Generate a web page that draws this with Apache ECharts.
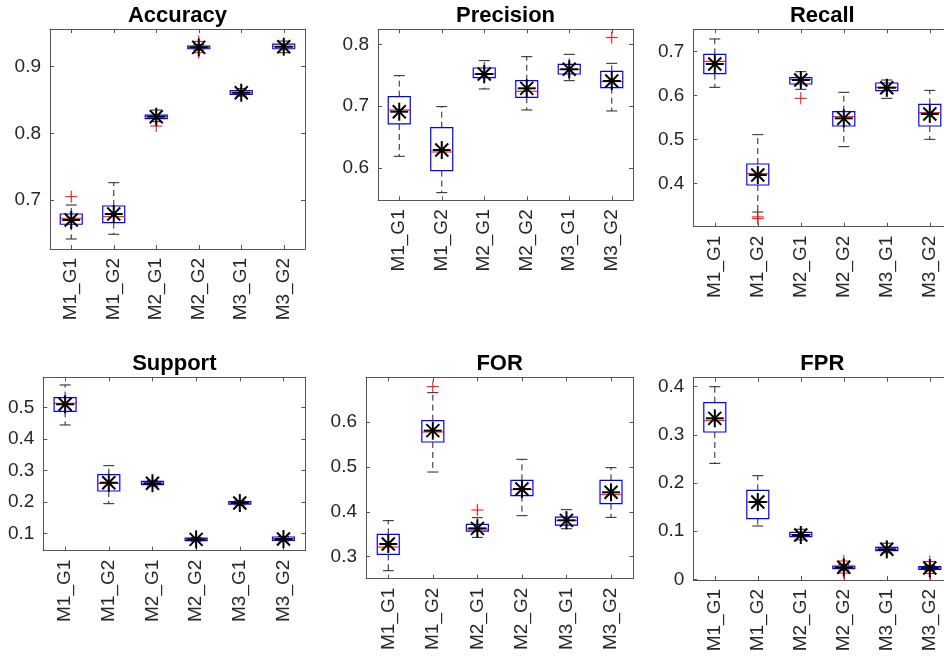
<!DOCTYPE html>
<html>
<head>
<meta charset="utf-8">
<script src="https://cdn.jsdelivr.net/npm/echarts@6/dist/echarts.min.js"></script>
<style>
  html, body { margin: 0; padding: 0; background: #fff; }
  #main { width: 944px; height: 656px; }
</style>
</head>
<body>
<div id="main"></div>
<script>
var categories = ['M1_G1', 'M1_G2', 'M2_G1', 'M2_G2', 'M3_G1', 'M3_G2'];

// box rows: [lower whisker, q1, median, q3, upper whisker]
var accuracyBox = [
  [0.6415, 0.6636, 0.6726, 0.6790, 0.6925],
  [0.6486, 0.6660, 0.6750, 0.6910, 0.7260],
  [0.8175, 0.8220, 0.8250, 0.8275, 0.8350],
  [0.9250, 0.9270, 0.9290, 0.9310, 0.9330],
  [0.8560, 0.8585, 0.8610, 0.8640, 0.8670],
  [0.9210, 0.9270, 0.9300, 0.9340, 0.9385]
];
var accuracyMean = [0.670, 0.679, 0.825, 0.929, 0.861, 0.930];
var accuracyOutliers = [[0, 0.705], [2, 0.811], [3, 0.938], [3, 0.921]];
var accuracyTicks = [0.7, 0.8, 0.9];

var precisionBox = [
  [0.6189, 0.6712, 0.6938, 0.7154, 0.7493],
  [0.5601, 0.5957, 0.6259, 0.6652, 0.6992],
  [0.7278, 0.7460, 0.7520, 0.7617, 0.7736],
  [0.6938, 0.7143, 0.7240, 0.7412, 0.7800],
  [0.7412, 0.7520, 0.7596, 0.7677, 0.7838],
  [0.6922, 0.7299, 0.7396, 0.7563, 0.7693]
];
var precisionMean = [0.691, 0.629, 0.752, 0.7288, 0.7596, 0.7407];
var precisionOutliers = [[5, 0.8108]];
var precisionTicks = [0.6, 0.7, 0.8];

var recallBox = [
  [0.6190, 0.6500, 0.6780, 0.6939, 0.7288],
  [0.3356, 0.3970, 0.4227, 0.4447, 0.5114],
  [0.6144, 0.6265, 0.6371, 0.6409, 0.6545],
  [0.4841, 0.5311, 0.5523, 0.5636, 0.6076],
  [0.5940, 0.6114, 0.6190, 0.6288, 0.6356],
  [0.5008, 0.5311, 0.5614, 0.5803, 0.6121]
];
var recallMean = [0.672, 0.4197, 0.6356, 0.5485, 0.618, 0.5583];
var recallOutliers = [[1, 0.3245], [1, 0.3205], [2, 0.594]];
var recallTicks = [0.4, 0.5, 0.6, 0.7];

var supportBox = [
  [0.4439, 0.4873, 0.5127, 0.5307, 0.5709],
  [0.1942, 0.2344, 0.2587, 0.2862, 0.3148],
  [0.2500, 0.2545, 0.2587, 0.2650, 0.2680],
  [0.0750, 0.0767, 0.0810, 0.0852, 0.0870],
  [0.1900, 0.1931, 0.1963, 0.2005, 0.2030],
  [0.0760, 0.0778, 0.0830, 0.0884, 0.0900]
];
var supportMean = [0.5095, 0.2608, 0.259, 0.081, 0.1963, 0.082];
var supportOutliers = [];
var supportTicks = [0.1, 0.2, 0.3, 0.4, 0.5];

var forBox = [
  [0.2689, 0.3053, 0.3216, 0.3498, 0.3803],
  [0.4886, 0.5555, 0.5777, 0.6030, 0.6653],
  [0.3431, 0.3572, 0.3617, 0.3720, 0.3870],
  [0.3914, 0.4359, 0.4493, 0.4701, 0.5169],
  [0.3624, 0.3706, 0.3810, 0.3884, 0.4048],
  [0.3877, 0.4181, 0.4382, 0.4701, 0.4983]
];
var forMean = [0.3283, 0.5807, 0.3632, 0.4508, 0.381, 0.4434];
var forOutliers = [[1, 0.6787], [2, 0.404]];
var forTicks = [0.3, 0.4, 0.5, 0.6];

var fprBox = [
  [0.2408, 0.3059, 0.3294, 0.3668, 0.4000],
  [0.1107, 0.1260, 0.1606, 0.1848, 0.2152],
  [0.0820, 0.0886, 0.0927, 0.0976, 0.1040],
  [0.0190, 0.0221, 0.0250, 0.0277, 0.0310],
  [0.0550, 0.0595, 0.0623, 0.0664, 0.0750],
  [0.0180, 0.0208, 0.0236, 0.0263, 0.0290]
];
var fprMean = [0.3343, 0.1606, 0.092, 0.025, 0.0623, 0.0236];
var fprOutliers = [[3, 0.038], [3, 0.013], [5, 0.037], [5, 0.012]];
var fprTicks = [0, 0.1, 0.2, 0.3, 0.4];

var panels = [
  {title: 'Accuracy', box: accuracyBox, mean: accuracyMean, out: accuracyOutliers, ticks: accuracyTicks,
   left: 50, top: 29, width: 255, height: 220, min: 0.6265, max: 0.9566},
  {title: 'Precision', box: precisionBox, mean: precisionMean, out: precisionOutliers, ticks: precisionTicks,
   left: 378, top: 29.3, width: 255, height: 171, min: 0.5477, max: 0.8243},
  {title: 'Recall', box: recallBox, mean: recallMean, out: recallOutliers, ticks: recallTicks,
   left: 693.3, top: 29.3, width: 258, height: 197.4, min: 0.3023, max: 0.7508},
  {title: 'Support', box: supportBox, mean: supportMean, out: supportOutliers, ticks: supportTicks,
   left: 43.3, top: 377.3, width: 262, height: 173.4, min: 0.045, max: 0.5952},
  {title: 'FOR', box: forBox, mean: forMean, out: forOutliers, ticks: forTicks,
   left: 366, top: 377.3, width: 267.3, height: 201.4, min: 0.2511, max: 0.6995},
  {title: 'FPR', box: fprBox, mean: fprMean, out: fprOutliers, ticks: fprTicks,
   left: 693.3, top: 377.7, width: 258, height: 202.3, min: -0.0014, max: 0.4187}
];

var FONT = 'Liberation Sans, Arial, Helvetica, sans-serif';
var TEXT_COLOR = '#262626';
var AXIS_COLOR = '#555555';

// matlab style box: dashed whiskers, blue box, red median, black asterisk for the mean
function renderBox(params, api) {
  var k = api.value(0);
  function pt(d) { return api.coord([k, api.value(d)]); }
  var lo = pt(1), q1 = pt(2), md = pt(3), q3 = pt(4), hi = pt(5), mn = pt(6);
  var x = lo[0], hw = 11, cw = 5.5, r = 9, d = 6.5;
  var dash = {stroke: '#222', lineWidth: 1, lineDash: [6, 4], fill: null};
  var solid = {stroke: '#222', lineWidth: 1};
  var star = {stroke: '#000', lineWidth: 2};
  return {
    type: 'group',
    children: [
      {type: 'line', shape: {x1: x, y1: q3[1], x2: x, y2: hi[1]}, style: dash},
      {type: 'line', shape: {x1: x, y1: q1[1], x2: x, y2: lo[1]}, style: dash},
      {type: 'line', shape: {x1: x - cw, y1: hi[1], x2: x + cw, y2: hi[1]}, style: solid},
      {type: 'line', shape: {x1: x - cw, y1: lo[1], x2: x + cw, y2: lo[1]}, style: solid},
      {type: 'rect', shape: {x: x - hw, y: q3[1], width: 2 * hw, height: q1[1] - q3[1]},
       style: {fill: 'none', stroke: '#0000ff', lineWidth: 1.2}},
      {type: 'line', shape: {x1: x - hw, y1: md[1], x2: x + hw, y2: md[1]}, style: {stroke: '#ff0000', lineWidth: 1}},
      {type: 'line', shape: {x1: x - r, y1: mn[1], x2: x + r, y2: mn[1]}, style: star},
      {type: 'line', shape: {x1: x, y1: mn[1] - r, x2: x, y2: mn[1] + r}, style: star},
      {type: 'line', shape: {x1: x - d, y1: mn[1] - d, x2: x + d, y2: mn[1] + d}, style: star},
      {type: 'line', shape: {x1: x - d, y1: mn[1] + d, x2: x + d, y2: mn[1] - d}, style: star}
    ]
  };
}

function renderPlus(params, api) {
  var c = api.coord([api.value(0), api.value(1)]);
  var s = 6, st = {stroke: '#ff0000', lineWidth: 1};
  return {
    type: 'group',
    children: [
      {type: 'line', shape: {x1: c[0] - s, y1: c[1], x2: c[0] + s, y2: c[1]}, style: st},
      {type: 'line', shape: {x1: c[0], y1: c[1] - s, x2: c[0], y2: c[1] + s}, style: st}
    ]
  };
}

var grids = [], xAxes = [], yAxes = [], series = [], titles = [];

panels.forEach(function (p, i) {
  grids.push({left: p.left, top: p.top, width: p.width, height: p.height,
              containLabel: false, outerBoundsMode: 'none'});

  var line = {show: true, onZero: false, lineStyle: {color: AXIS_COLOR, width: 1}};
  var xtick = {show: true, inside: true, length: 4, alignWithLabel: true, interval: 0,
               lineStyle: {color: AXIS_COLOR}};
  var ytick = {show: true, inside: true, length: 4, customValues: p.ticks,
               lineStyle: {color: AXIS_COLOR}};

  xAxes.push({type: 'category', gridIndex: i, data: categories, position: 'bottom',
              axisLine: line, axisTick: xtick, splitLine: {show: false},
              axisLabel: {rotate: 90, interval: 0, margin: 9, fontSize: 19,
                          color: TEXT_COLOR, fontFamily: FONT}});
  xAxes.push({type: 'category', gridIndex: i, data: categories, position: 'top',
              axisLine: line, axisTick: xtick, axisLabel: {show: false}, splitLine: {show: false}});

  yAxes.push({type: 'value', gridIndex: i, min: p.min, max: p.max, position: 'left',
              axisLine: line, axisTick: ytick, splitLine: {show: false},
              axisLabel: {customValues: p.ticks, margin: 9, fontSize: 19,
                          color: TEXT_COLOR, fontFamily: FONT}});
  yAxes.push({type: 'value', gridIndex: i, min: p.min, max: p.max, position: 'right',
              axisLine: line, axisTick: ytick, axisLabel: {show: false}, splitLine: {show: false}});

  series.push({
    type: 'custom', xAxisIndex: 2 * i, yAxisIndex: 2 * i,
    data: p.out,
    encode: {x: 0, y: 1},
    renderItem: renderPlus
  });
  series.push({
    type: 'custom', xAxisIndex: 2 * i, yAxisIndex: 2 * i,
    data: p.box.map(function (b, k) { return [k, b[0], b[1], b[2], b[3], b[4], p.mean[k]]; }),
    encode: {x: 0, y: [1, 2, 3, 4, 5, 6]},
    renderItem: renderBox
  });

  titles.push({
    text: p.title,
    left: p.left + p.width / 2,
    top: i < 3 ? 5 : 353,
    textAlign: 'center',
    padding: 0,
    textStyle: {fontSize: 22, fontWeight: 'bold', color: '#000', fontFamily: FONT}
  });
});

var chart = echarts.init(document.getElementById('main'));
chart.setOption({
  animation: false,
  backgroundColor: '#fff',
  title: titles,
  grid: grids,
  xAxis: xAxes,
  yAxis: yAxes,
  series: series
});
</script>
</body>
</html>
